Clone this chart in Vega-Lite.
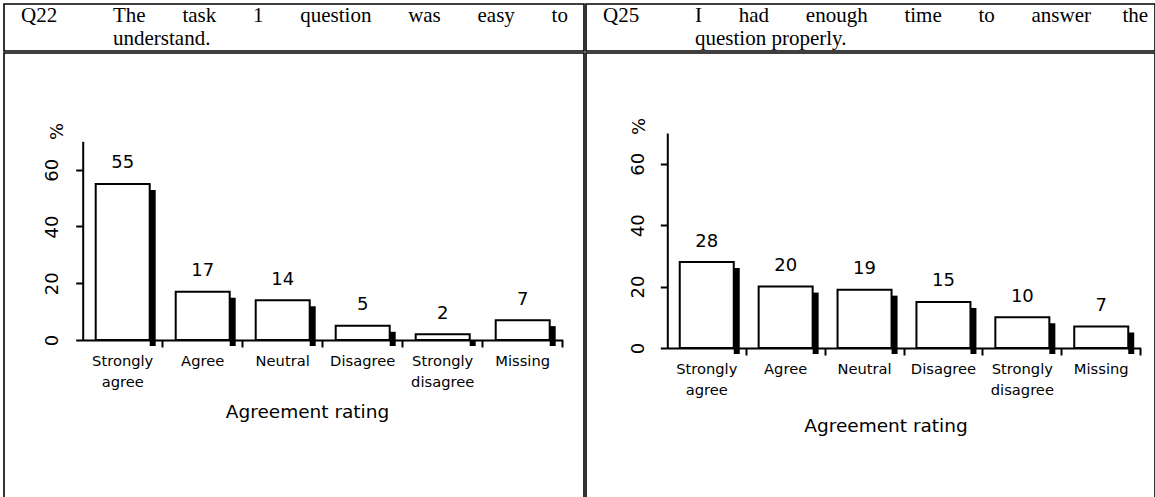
{
  "$schema": "https://vega.github.io/schema/vega-lite/v6.json",
  "background": "white",
  "padding": {"left": 3, "top": 3, "right": 0, "bottom": 0},
  "spacing": 0,
  "config": {
    "view": {"stroke": "black", "strokeWidth": 1.6},
    "font": "DejaVu Sans",
    "concat": {"spacing": 0},
    "axis": {
      "domainColor": "black", "domainWidth": 2,
      "tickColor": "black", "tickWidth": 2, "tickSize": 7,
      "labelColor": "black", "titleColor": "black",
      "labelFont": "DejaVu Sans", "titleFont": "DejaVu Sans",
      "titleFontWeight": "normal", "grid": false
    }
  },
  "hconcat": [
    {
      "spacing": 0,
      "vconcat": [
        {
          "width": 580, "height": 47,
          "data": {"values": [
            {"col": "id", "line": 1, "text": "Q22"},
            {"col": "q", "line": 1, "text": "The\u00a0\u00a0\u00a0\u00a0\u00a0\u00a0\u00a0task\u00a0\u00a0\u00a0\u00a0\u00a0\u00a0\u00a01\u00a0\u00a0\u00a0\u00a0\u00a0\u00a0\u00a0question\u00a0\u00a0\u00a0\u00a0\u00a0\u00a0\u00a0was\u00a0\u00a0\u00a0\u00a0\u00a0\u00a0\u00a0easy\u00a0\u00a0\u00a0\u00a0\u00a0\u00a0\u00a0to"},
            {"col": "q", "line": 2, "text": "understand."}
          ]},
          "mark": {"type": "text", "font": "Liberation Serif", "fontSize": 21, "align": "left", "baseline": "middle", "color": "black"},
          "encoding": {
            "x": {"field": "col", "type": "nominal", "scale": {"type": "point", "domain": ["id", "q"], "range": [17, 109], "padding": 0}, "axis": null},
            "y": {"field": "line", "type": "ordinal", "scale": {"type": "point", "domain": [1, 2], "range": [12, 35], "padding": 0}, "axis": null},
            "text": {"field": "text"}
          }
        },
        {
          "width": 580, "height": 446,
          "data": {"values": [
            {"rating": "Strongly agree", "pct": 55},
            {"rating": "Agree", "pct": 17},
            {"rating": "Neutral", "pct": 14},
            {"rating": "Disagree", "pct": 5},
            {"rating": "Strongly disagree", "pct": 2},
            {"rating": "Missing", "pct": 7}
          ]},
          "encoding": {
            "x": {
              "field": "rating", "type": "nominal",
              "scale": {"domain": ["Strongly agree", "Agree", "Neutral", "Disagree", "Strongly disagree", "Missing"], "range": [78.7, 558.7], "padding": 0},
              "axis": {
                "offset": -159, "bandPosition": 1,
                "labelExpr": "split(datum.label, ' ')",
                "labelAngle": 0, "labelAlign": "center", "labelBaseline": "top",
                "labelPadding": 6, "labelFontSize": 14.7, "labelLineHeight": 21,
                "labelOverlap": false, "labelBound": false, "labelLimit": 0,
                "title": "Agreement rating", "titleFontSize": 18.5,
                "titleX": 303, "titleY": 71.5, "titleAlign": "center", "titleBaseline": "middle"
              }
            },
            "y": {
              "field": "pct", "type": "quantitative",
              "scale": {"domain": [0, 70], "range": [287, 88.3], "nice": false, "zero": true},
              "axis": {
                "offset": -78.7, "values": [0, 20, 40, 60],
                "labelAngle": 270, "labelAlign": "center", "labelBaseline": "bottom",
                "labelPadding": 14, "labelFontSize": 18,
                "title": "%", "titleAngle": 270, "titleFontSize": 18,
                "titleX": -25, "titleY": 78, "titleAlign": "center", "titleBaseline": "middle"
              }
            }
          },
          "layer": [
            {"mark": {"type": "bar", "color": "black", "width": 6, "xOffset": 30, "yOffset": 6, "y2Offset": 0}},
            {"mark": {"type": "bar", "fill": "white", "stroke": "black", "strokeWidth": 2, "width": 54}},
            {
              "mark": {"type": "text", "font": "DejaVu Sans", "fontSize": 18, "baseline": "alphabetic", "dy": -15.5, "color": "black"},
              "encoding": {"text": {"field": "pct", "type": "quantitative"}}
            }
          ]
        }
      ]
    },
    {
      "spacing": 0,
      "vconcat": [
        {
          "width": 569, "height": 47,
          "data": {"values": [
            {"col": "id", "line": 1, "text": "Q25"},
            {"col": "q", "line": 1, "text": "I\u00a0\u00a0\u00a0\u00a0\u00a0\u00a0\u00a0had\u00a0\u00a0\u00a0\u00a0\u00a0\u00a0\u00a0enough\u00a0\u00a0\u00a0\u00a0\u00a0\u00a0\u00a0time\u00a0\u00a0\u00a0\u00a0\u00a0\u00a0\u00a0to\u00a0\u00a0\u00a0\u00a0\u00a0\u00a0\u00a0answer\u00a0\u00a0\u00a0\u00a0\u00a0\u00a0the"},
            {"col": "q", "line": 2, "text": "question properly."}
          ]},
          "mark": {"type": "text", "font": "Liberation Serif", "fontSize": 21, "align": "left", "baseline": "middle", "color": "black"},
          "encoding": {
            "x": {"field": "col", "type": "nominal", "scale": {"type": "point", "domain": ["id", "q"], "range": [17, 109], "padding": 0}, "axis": null},
            "y": {"field": "line", "type": "ordinal", "scale": {"type": "point", "domain": [1, 2], "range": [12, 35], "padding": 0}, "axis": null},
            "text": {"field": "text"}
          }
        },
        {
          "width": 569, "height": 446,
          "data": {"values": [
            {"rating": "Strongly agree", "pct": 28},
            {"rating": "Agree", "pct": 20},
            {"rating": "Neutral", "pct": 19},
            {"rating": "Disagree", "pct": 15},
            {"rating": "Strongly disagree", "pct": 10},
            {"rating": "Missing", "pct": 7}
          ]},
          "encoding": {
            "x": {
              "field": "rating", "type": "nominal",
              "scale": {"domain": ["Strongly agree", "Agree", "Neutral", "Disagree", "Strongly disagree", "Missing"], "range": [81.3, 554.7], "padding": 0},
              "axis": {
                "offset": -151, "bandPosition": 1,
                "labelExpr": "split(datum.label, ' ')",
                "labelAngle": 0, "labelAlign": "center", "labelBaseline": "top",
                "labelPadding": 6, "labelFontSize": 14.7, "labelLineHeight": 21,
                "labelOverlap": false, "labelBound": false, "labelLimit": 0,
                "title": "Agreement rating", "titleFontSize": 18.5,
                "titleX": 299.5, "titleY": 77.7, "titleAlign": "center", "titleBaseline": "middle"
              }
            },
            "y": {
              "field": "pct", "type": "quantitative",
              "scale": {"domain": [0, 70], "range": [295, 80], "nice": false, "zero": true},
              "axis": {
                "offset": -81.3, "values": [0, 20, 40, 60],
                "labelAngle": 270, "labelAlign": "center", "labelBaseline": "bottom",
                "labelPadding": 13, "labelFontSize": 18,
                "title": "%", "titleAngle": 270, "titleFontSize": 18,
                "titleX": -27.6, "titleY": 73, "titleAlign": "center", "titleBaseline": "middle"
              }
            }
          },
          "layer": [
            {"mark": {"type": "bar", "color": "black", "width": 6, "xOffset": 30, "yOffset": 6, "y2Offset": 0}},
            {"mark": {"type": "bar", "fill": "white", "stroke": "black", "strokeWidth": 2, "width": 54}},
            {
              "mark": {"type": "text", "font": "DejaVu Sans", "fontSize": 18, "baseline": "alphabetic", "dy": -15.5, "color": "black"},
              "encoding": {"text": {"field": "pct", "type": "quantitative"}}
            }
          ]
        }
      ]
    }
  ]
}
